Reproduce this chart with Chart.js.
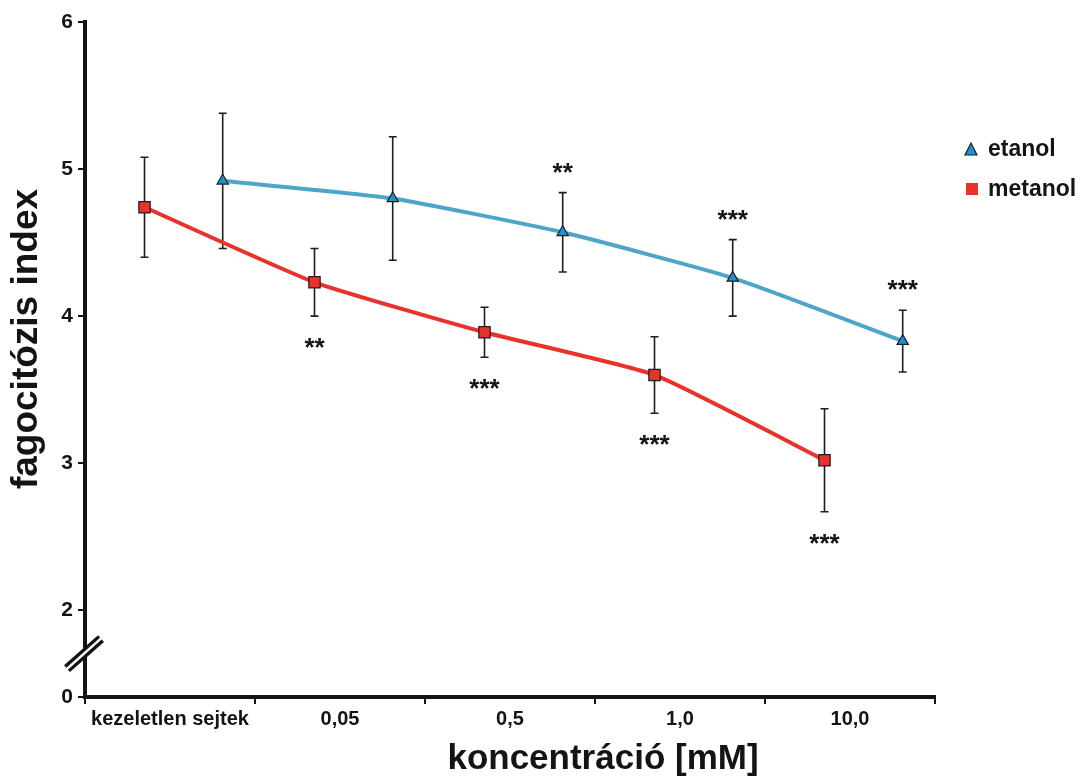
<!DOCTYPE html>
<html>
<head>
<meta charset="utf-8">
<script src="https://cdn.jsdelivr.net/npm/chart.js@4.4.1/dist/chart.umd.min.js"></script>
<style>
  html, body { margin: 0; padding: 0; background: #fff; }
  #wrap { width: 1082px; height: 778px; }
</style>
</head>
<body>
<div id="wrap"><canvas id="chart" width="1082" height="778"></canvas></div>
<script>
// Phagocytosis index vs. concentration, ethanol vs. methanol.
const categories = ["kezeletlen sejtek", "0,05", "0,5", "1,0", "10,0"];

const etanolMean = [4.92, 4.80, 4.57, 4.26, 3.83];
const etanolErr  = [0.46, 0.42, 0.27, 0.26, 0.21];
const etanolSig  = ["", "", "**", "***", "***"];

const metanolMean = [4.74, 4.23, 3.89, 3.60, 3.02];
const metanolErr  = [0.34, 0.23, 0.17, 0.26, 0.35];
const metanolSig  = ["", "**", "***", "***", "***"];

// broken y axis: everything below 2 is squeezed, bottom labelled "0"
const yTickValues = [1.41, 2, 3, 4, 5, 6];
const yTickLabels = ["0", "2", "3", "4", "5", "6"];

const FONT = '"Liberation Sans", Arial, Helvetica, sans-serif';
const RED = "#e8322b";
const BLUE_LINE = "#4ea5c8";
const BLUE_FILL = "#1b93d3";
const INK = "#141414";

// place each series inside its category slot
const toXY = (vals, shift) => vals.map((v, i) => ({ x: i + shift, y: v }));

const errorBars = {
  id: "errorBars",
  beforeDatasetsDraw(chart) {
    const { ctx, scales: { x, y } } = chart;
    ctx.save();
    ctx.strokeStyle = "#1e1e1e";
    ctx.lineWidth = 1.6;
    chart.data.datasets.forEach((ds) => {
      ds.data.forEach((p, i) => {
        const e = ds.errors[i];
        const px = x.getPixelForValue(p.x);
        const top = y.getPixelForValue(p.y + e);
        const bot = y.getPixelForValue(p.y - e);
        ctx.beginPath();
        ctx.moveTo(px, top); ctx.lineTo(px, bot);
        ctx.moveTo(px - 4, top); ctx.lineTo(px + 4, top);
        ctx.moveTo(px - 4, bot); ctx.lineTo(px + 4, bot);
        ctx.stroke();
      });
    });
    ctx.restore();
  },
  afterDatasetsDraw(chart) {
    // significance stars: above for etanol, below for metanol
    const { ctx, scales: { x, y } } = chart;
    ctx.save();
    ctx.fillStyle = INK;
    ctx.font = `bold 26px ${FONT}`;
    ctx.textAlign = "center";
    ctx.textBaseline = "alphabetic";
    chart.data.datasets.forEach((ds) => {
      ds.data.forEach((p, i) => {
        const s = ds.sig[i];
        if (!s) return;
        const px = x.getPixelForValue(p.x);
        let cy;
        if (ds.sigAbove) cy = y.getPixelForValue(p.y + ds.errors[i]) - 26;
        else cy = y.getPixelForValue(p.y - ds.errors[i]) + 26;
        ctx.fillText(s, px, cy + 14);
      });
    });
    ctx.restore();
  },
};

const decorations = {
  id: "decorations",
  afterDraw(chart) {
    const { ctx, chartArea: a, scales: { y } } = chart;
    ctx.save();

    // axis break marks
    const by = (y.getPixelForValue(yTickValues[0]) + y.getPixelForValue(2)) / 2;
    const bx = a.left - 1;
    ctx.lineCap = "butt";
    ctx.strokeStyle = INK;
    ctx.lineWidth = 9;
    ctx.beginPath();
    ctx.moveTo(bx - 17, by + 15); ctx.lineTo(bx + 17, by - 15);
    ctx.stroke();
    ctx.strokeStyle = "#fff";
    ctx.lineWidth = 2.5;
    ctx.beginPath();
    ctx.moveTo(bx - 19, by + 17); ctx.lineTo(bx + 19, by - 17);
    ctx.stroke();

    // axis titles
    ctx.fillStyle = INK;
    ctx.font = `bold 35px ${FONT}`;
    ctx.textAlign = "center";
    ctx.textBaseline = "alphabetic";
    ctx.fillText("koncentráció [mM]", 603, 769);
    ctx.save();
    ctx.font = `bold 37px ${FONT}`;
    ctx.translate(37, 339);
    ctx.rotate(-Math.PI / 2);
    ctx.fillText("fagocitózis index", 0, 0);
    ctx.restore();

    // legend
    ctx.font = `bold 23px ${FONT}`;
    ctx.textAlign = "left";
    ctx.strokeStyle = "#1e1e1e";
    ctx.lineWidth = 1.2;
    ctx.fillStyle = BLUE_FILL;
    ctx.beginPath();
    ctx.moveTo(971, 143); ctx.lineTo(977, 155); ctx.lineTo(965, 155);
    ctx.closePath();
    ctx.fill(); ctx.stroke();
    ctx.fillStyle = RED;
    ctx.fillRect(966, 183, 12, 12);
    ctx.fillStyle = INK;
    ctx.fillText("etanol", 988, 156);
    ctx.fillText("metanol", 988, 196);

    ctx.restore();
  },
};

new Chart(document.getElementById("chart"), {
  type: "line",
  data: {
    datasets: [
      {
        label: "etanol",
        data: toXY(etanolMean, 0.81),
        errors: etanolErr,
        sig: etanolSig,
        sigAbove: true,
        borderColor: BLUE_LINE,
        borderWidth: 4,
        tension: 0.15,
        pointStyle: "triangle",
        pointRadius: 6.5,
        pointBackgroundColor: BLUE_FILL,
        pointBorderColor: "#1e1e1e",
        pointBorderWidth: 1.2,
      },
      {
        label: "metanol",
        data: toXY(metanolMean, 0.35),
        errors: metanolErr,
        sig: metanolSig,
        sigAbove: false,
        borderColor: RED,
        borderWidth: 4,
        tension: 0.15,
        pointStyle: "rect",
        pointRadius: 8,
        pointBackgroundColor: RED,
        pointBorderColor: "#1e1e1e",
        pointBorderWidth: 1.2,
      },
    ],
  },
  options: {
    responsive: false,
    animation: false,
    events: [],
    layout: { padding: { top: 22, right: 147, bottom: 0, left: 0 } },
    plugins: { legend: { display: false }, tooltip: { enabled: false } },
    scales: {
      x: {
        type: "linear",
        min: 0,
        max: 5,
        afterFit: (s) => { s.height = 81; },
        afterBuildTicks: (s) => {
          const t = [];
          for (let v = 0; v <= 5; v += 0.5) t.push({ value: v });
          s.ticks = t;
        },
        border: { color: INK, width: 4 },
        grid: {
          drawOnChartArea: false,
          drawTicks: true,
          tickLength: 7,
          lineWidth: 2,
          color: (c) => (c.tick && Number.isInteger(c.tick.value) ? INK : "rgba(0,0,0,0)"),
        },
        ticks: {
          autoSkip: false,
          maxRotation: 0,
          padding: 3,
          color: INK,
          font: { family: FONT, size: 20, weight: "bold" },
          callback: (v) => (Number.isInteger(v) ? "" : categories[Math.floor(v)]),
        },
      },
      y: {
        min: yTickValues[0],
        max: 6,
        afterFit: (s) => { s.width = 85; },
        afterBuildTicks: (s) => { s.ticks = yTickValues.map((v) => ({ value: v })); },
        border: { color: INK, width: 4 },
        grid: {
          drawOnChartArea: false,
          drawTicks: true,
          tickLength: 7,
          lineWidth: 2,
          color: INK,
        },
        ticks: {
          padding: 5,
          color: INK,
          font: { family: FONT, size: 21, weight: "bold" },
          callback: (v) => yTickLabels[yTickValues.indexOf(v)],
        },
      },
    },
  },
  plugins: [errorBars, decorations],
});
</script>
</body>
</html>
